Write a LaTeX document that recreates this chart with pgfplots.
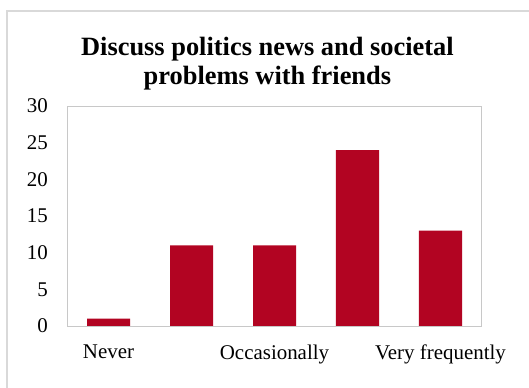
\documentclass[border=0pt]{standalone}
\usepackage{pgfplots}
\pgfplotsset{compat=1.18}
\usepackage{fontspec}
\setmainfont{Liberation Serif}
\definecolor{barred}{RGB}{178,4,34}
\definecolor{axgray}{RGB}{200,200,200}
\definecolor{bordergray}{RGB}{217,217,217}
\begin{document}
\begin{tikzpicture}
\useasboundingbox (0,0) rectangle (529bp,388bp);
\draw[bordergray, line width=1.2bp] (7bp,0) -- (7bp,377bp) -- (529bp,377bp);
\begin{axis}[
  at={(67bp,62bp)}, anchor=south west,
  width=415bp, height=220bp, scale only axis,
  xmin=-0.5, xmax=4.5, ymin=0, ymax=30,
  ytick={0,5,10,15,20,25,30},
  xtick={0,1,2,3,4},
  xticklabels={Never,,Occasionally,,Very frequently},
  major tick length=0pt,
  axis line style={axgray, line width=1bp},
  tick style={draw=none},
  ticklabel style={font=\fontsize{21}{25}\selectfont, text=black},
  /pgf/number format/assume math mode=true,
  yticklabel style={inner sep=0pt, xshift=-19bp},
  xticklabel style={inner sep=0pt, anchor=north, yshift=-19bp},
  title={Discuss politics news and societal\\problems with friends},
  title style={font=\bfseries\fontsize{26.5}{29}\selectfont, align=center,
    at={(0.483,1)}, anchor=south, inner sep=0pt, yshift=10bp},
  ybar, bar width=43bp,
]
\addplot[fill=barred, draw=none] coordinates {(0,1) (1,11) (2,11) (3,24) (4,13)};
\end{axis}
\end{tikzpicture}
\end{document}
